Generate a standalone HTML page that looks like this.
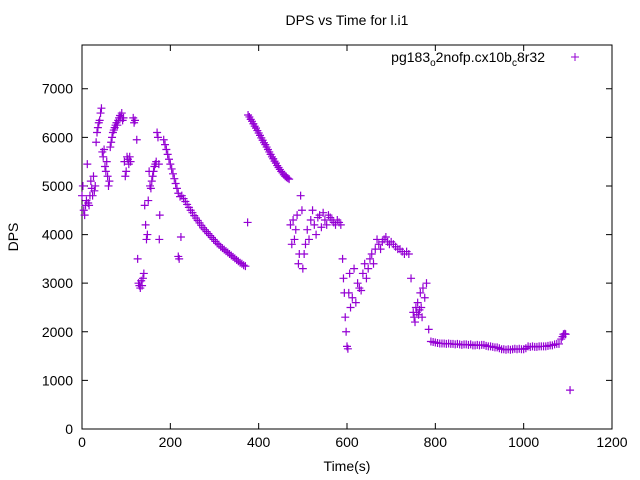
<!DOCTYPE html>
<html><head><meta charset="utf-8"><style>
body{margin:0;background:#fff}
svg{display:block;font-family:"Liberation Sans",sans-serif}
</style></head><body>
<svg id="chart" width="640" height="480" viewBox="0 0 640 480">
<rect width="640" height="480" fill="#fff"/>
<text x="347" y="25" font-size="14" text-anchor="middle">DPS vs Time for l.i1</text>
<g id="axes"></g>
<g id="marks"></g>
<text x="545" y="62" font-size="14" text-anchor="end">pg183<tspan font-size="10" dy="4">o</tspan><tspan dy="-4">2nofp.cx10b</tspan><tspan font-size="10" dy="4">c</tspan><tspan dy="-4">8r32</tspan></text>
<path d="M571 57h8M575 53v8" stroke="#9400d3" stroke-width="1"/>
<text x="347" y="471" font-size="14" text-anchor="middle">Time(s)</text>
<text transform="translate(18,237) rotate(-90)" font-size="14" text-anchor="middle">DPS</text>
</svg>
<script>
const xTicks=[0,200,400,600,800,1000,1200];
const yTicks=[0,1000,2000,3000,4000,5000,6000,7000];
const times=[0,2,4,6,8,10,12,14,16,18,20,22,24,26,28,30,
32,34,36,38,40,42,44,46,48,50,52,54,56,58,60,62,
64,66,68,70,72,74,76,78,80,82,84,86,88,90,92,94,
96,98,100,102,104,106,108,110,116,118,120,124,
126,128,130,132,134,136,138,140,142,144,146,148,150,
152,154,156,158,160,162,164,166,168,170,172,174,175,176,
185,188,191,194,197,200,203,206,209,212,215,218,222,218,220,224,
226,230,234,238,242,246,250,254,258,262,266,270,274,278,282,286,290,294,298,302,306,310,314,318,322,326,330,334,338,342,346,350,354,358,362,366,370,375,
376,379,382,385,388,391,394,397,400,403,406,409,412,415,418,421,424,427,430,433,436,439,442,445,448,451,454,457,460,463,466,469,
472,475,478,481,484,487,490,492,495,498,500,503,506,510,514,518,522,526,530,534,538,542,546,550,554,558,562,566,570,574,578,582,586,
590,592,594,596,598,600,602,604,606,608,612,616,620,624,628,632,636,
640,644,648,652,656,660,664,668,672,676,680,684,688,692,696,700,705,710,715,720,725,730,735,740,745,
750,752,754,756,758,760,762,764,766,768,770,772,776,780,785,
790,795,800,805,810,815,820,825,830,835,840,845,850,855,860,865,870,875,880,885,890,895,900,905,910,915,920,925,930,935,940,945,950,955,960,965,970,975,980,985,990,995,1000,1005,1010,1015,1020,1025,1030,1035,1040,1045,1050,1055,1060,1065,1070,1075,1080,1085,1088,1090,1093,1095,1105];
const dps=[4800,5000,4500,4400,4600,4700,5450,4650,4600,4800,5100,4950,4800,5200,4900,5000,
5900,6100,6200,6300,6350,6500,6600,5700,5600,5750,5400,5300,5500,5200,5000,5100,
5800,5900,6000,6100,6150,6200,6250,6300,6250,6350,6400,6450,6400,6500,6350,6400,
5500,5200,5300,5600,5550,5450,5600,5500,6400,6300,6350,5950,
3500,3000,2950,2900,3050,2950,3100,3200,4600,4200,3900,4000,4700,
5300,5000,4950,5100,5200,5300,5400,5450,5500,6100,6000,5450,3900,4400,
5950,5850,5750,5650,5550,5450,5350,5250,5150,5050,4950,4850,4780,3550,3500,3950,
4800,4740,4680,4620,4560,4500,4450,4390,4340,4290,4240,4190,4140,4100,4060,4020,3980,3940,3900,3860,3820,3790,3750,3720,3690,3660,3630,3600,3570,3540,3510,3480,3450,3420,3400,3370,3350,4250,
6460,6420,6370,6330,6280,6230,6190,6140,6090,6040,5990,5940,5890,5850,5800,5750,5700,5650,5600,5560,5510,5470,5420,5380,5340,5300,5270,5230,5200,5180,5160,5140,
4200,3800,4300,3900,4100,4400,3400,3600,4800,4500,3300,3600,3800,4100,3900,4300,4500,4200,4000,4350,4400,4150,4450,4300,4200,4400,4350,4300,4250,4200,4300,4250,4200,
3500,3100,2800,2300,2000,1700,1650,2800,3200,2500,2700,3300,2600,3000,2900,2850,3200,
3400,3100,3300,3500,3600,3400,3700,3900,3800,3700,3850,3900,3950,3850,3800,3850,3800,3750,3700,3700,3650,3600,3650,3600,3100,
2400,2300,2200,2500,2400,2600,2350,2450,2800,2500,2300,2900,2700,3000,2050,
1800,1790,1780,1770,1760,1760,1760,1750,1760,1750,1750,1740,1750,1740,1730,1740,1740,1730,1740,1720,1720,1730,1720,1730,1730,1710,1700,1700,1690,1680,1680,1660,1640,1640,1630,1640,1630,1640,1650,1640,1650,1640,1640,1660,1700,1690,1700,1690,1690,1700,1700,1700,1700,1710,1720,1720,1740,1750,1750,1850,1900,1950,1960,1950,800];
const X=v=>82+v*(612-82)/1200;
const Y=v=>429-v*(429-45)/7900;
const ax=document.getElementById('axes');
const ns='http://www.w3.org/2000/svg';
function mk(tag,attrs,txt){const e=document.createElementNS(ns,tag);for(const k in attrs)e.setAttribute(k,attrs[k]);if(txt!==undefined)e.textContent=txt;return e;}
const frame=mk('rect',{x:82,y:45,width:530,height:384,fill:'none',stroke:'#000','stroke-width':1});


ax.appendChild(frame);
xTicks.forEach(t=>{const x=X(t);
const tk=mk('path',{d:`M${x} 429v-6M${x} 45v6`,stroke:'#000'});


ax.appendChild(tk);
const l=mk('text',{x:x,y:447,'font-size':14,'text-anchor':'middle'},String(t));


ax.appendChild(l);});
yTicks.forEach(t=>{const y=Y(t);
const tk=mk('path',{d:`M82 ${y}h6M612 ${y}h-6`,stroke:'#000'});


ax.appendChild(tk);
const l=mk('text',{x:73,y:y+5,'font-size':14,'text-anchor':'end'},String(t));


ax.appendChild(l);});
const mg=document.getElementById('marks');
let d='';
times.forEach((t,i)=>{const x=X(t),y=Y(dps[i]);d+=`M${x-4} ${y}h8M${x} ${y-4}v8`;});
const p=mk('path',{d:d,stroke:'#9400d3','stroke-width':1.2,fill:'none'});


mg.appendChild(p);
</script>
</body></html>
